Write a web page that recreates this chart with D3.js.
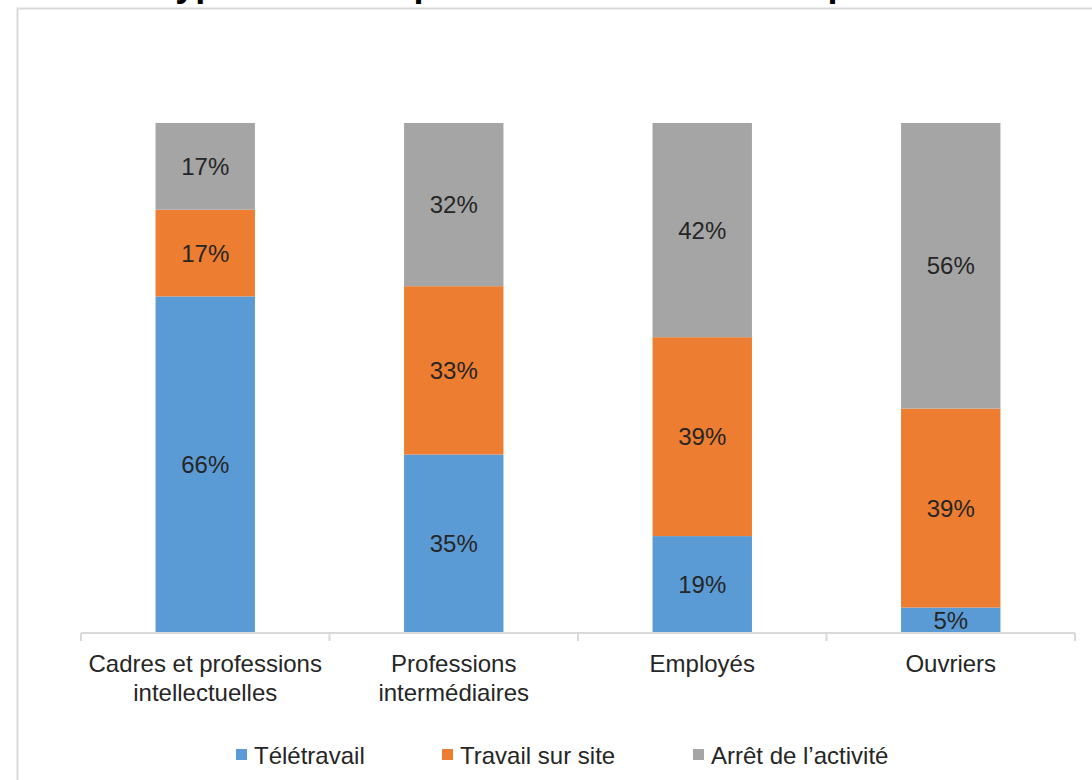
<!DOCTYPE html>
<html>
<head>
<meta charset="utf-8">
<script src="https://cdn.jsdelivr.net/npm/d3@7"></script>
<style>
  body { margin: 0; background: #fff; overflow: hidden; }
  svg { display: block; font-family: "Liberation Sans", Arial, sans-serif; }
</style>
</head>
<body>
<div id="chart-area"></div>
<script>
// data
var categories = [["Cadres et professions", "intellectuelles"], ["Professions", "intermédiaires"], ["Employés"], ["Ouvriers"]];
var seriesNames = ["Télétravail", "Travail sur site", "Arrêt de l’activité"];
var teletravail = [66, 35, 19, 5];
var surSite = [17, 33, 39, 39];
var arret = [17, 32, 42, 56];
var colours = ["#5B9BD5", "#ED7D31", "#A5A5A5"];

var width = 1092, height = 780;

var svg = d3.select("#chart-area").append("svg")
    .attr("width", width)
    .attr("height", height);

// frame of the chart area
svg.append("rect")
    .attr("x", 17.5).attr("y", 8.5)
    .attr("width", 1100).attr("height", 800)
    .attr("fill", "none")
    .attr("stroke", "#d9d9d9")
    .attr("stroke-width", 2);

// title, cut off at the top of the picture as in the source
svg.append("text")
    .attr("x", 156).attr("y", -4.5)
    .attr("font-size", "36px")
    .attr("font-weight", "bold")
    .attr("fill", "#000")
    .text("Type d’activité pendant le confinement par CSP");

var names = categories.map(function(d) { return d.join(" "); });
var rows = names.map(function(n, i) {
    return { name: n, lines: categories[i], s0: teletravail[i] / 100, s1: surSite[i] / 100, s2: arret[i] / 100 };
});

var x = d3.scaleBand()
    .domain(names)
    .range([81, 1075])
    .paddingInner(0.6)
    .paddingOuter(0.3);

var y = d3.scaleLinear()
    .domain([0, 1])
    .range([633, 123]);

var stack = d3.stack().keys(["s0", "s1", "s2"]);
var layers = stack(rows);

var g = svg.append("g");

layers.forEach(function(layer, li) {
    var grp = g.append("g").attr("fill", colours[li]);
    grp.selectAll("rect")
        .data(layer)
        .enter()
        .append("rect")
            .attr("x", function(d) { return x(d.data.name); })
            .attr("y", function(d) { return y(d[1]); })
            .attr("width", x.bandwidth())
            .attr("height", function(d) { return y(d[0]) - y(d[1]); });

    g.append("g").selectAll("text")
        .data(layer)
        .enter()
        .append("text")
            .attr("x", function(d) { return x(d.data.name) + x.bandwidth() / 2; })
            .attr("y", function(d) { return (y(d[0]) + y(d[1])) / 2 + 8.5; })
            .attr("text-anchor", "middle")
            .attr("font-size", "24px")
            .attr("fill", "#262626")
            .text(function(d) { return Math.round((d[1] - d[0]) * 100) + "%"; });
});

// category axis with ticks between the bands
var axis = svg.append("g").attr("class", "bottom axis");
axis.append("line")
    .attr("x1", 81).attr("x2", 1075)
    .attr("y1", 633).attr("y2", 633)
    .attr("stroke", "#d9d9d9").attr("stroke-width", 2);

var step = x.step();
var tickPos = names.map(function(n) { return x(n) - x.paddingInner() * step / 2; });
tickPos.push(1075);
tickPos[0] = 81;
axis.selectAll(".tick")
    .data(tickPos)
    .enter()
    .append("line")
        .attr("x1", function(d) { return d; })
        .attr("x2", function(d) { return d; })
        .attr("y1", 633).attr("y2", 641)
        .attr("stroke", "#d9d9d9").attr("stroke-width", 2);

axis.selectAll(".label")
    .data(rows)
    .enter()
    .append("text")
        .attr("x", function(d) { return x(d.name) + x.bandwidth() / 2; })
        .attr("y", 671.5)
        .attr("text-anchor", "middle")
        .attr("font-size", "24px")
        .attr("fill", "#262626")
        .each(function(d) {
            var t = d3.select(this);
            d.lines.forEach(function(l, i) {
                t.append("tspan")
                    .attr("x", x(d.name) + x.bandwidth() / 2)
                    .attr("dy", i === 0 ? 0 : 29)
                    .text(l);
            });
        });

// legend
var legendX = [236, 442, 693];
var legend = svg.append("g").attr("class", "legend");
var items = legend.selectAll("g")
    .data(seriesNames)
    .enter()
    .append("g")
        .attr("transform", function(d, i) { return "translate(" + legendX[i] + ",749)"; });
items.append("rect")
    .attr("width", 11).attr("height", 11)
    .attr("fill", function(d, i) { return colours[i]; });
items.append("text")
    .attr("x", 18).attr("y", 14.5)
    .attr("font-size", "24px")
    .attr("fill", "#262626")
    .text(function(d) { return d; });
</script>
</body>
</html>
